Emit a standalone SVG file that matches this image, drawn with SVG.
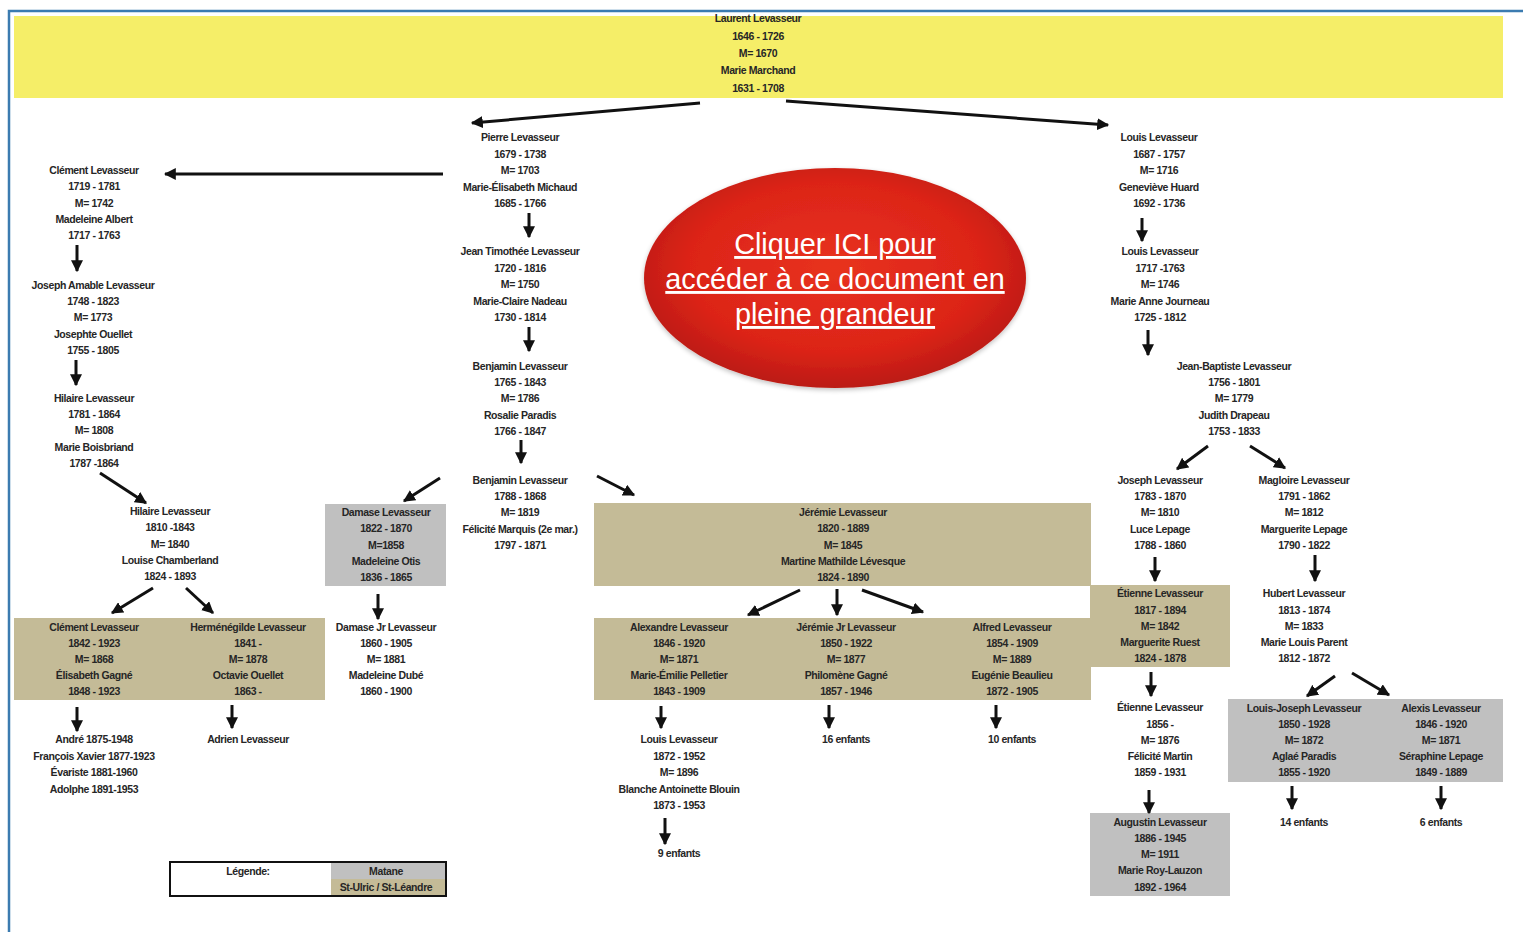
<svg xmlns="http://www.w3.org/2000/svg" width="1523" height="932" viewBox="0 0 1523 932">
<style>
.t{font-family:"Liberation Sans",Arial,sans-serif;font-size:10.5px;font-weight:bold;fill:#262626;text-anchor:middle;letter-spacing:-0.4px}
.big{font-family:"Liberation Sans",Arial,sans-serif;font-size:28.8px;fill:#ffffff;text-anchor:middle;text-decoration:underline}
.ar{stroke:#111;stroke-width:3;fill:none;marker-end:url(#ah)}
.tan{fill:#c4bb97}
.gray{fill:#c0c0c0}
</style>
<defs>
<marker id="ah" viewBox="0 0 10 10" refX="9" refY="5" markerWidth="12" markerHeight="12" markerUnits="userSpaceOnUse" orient="auto">
<path d="M0,0 L10,5 L0,10 z" fill="#111"/>
</marker>
<radialGradient id="rg" cx="50%" cy="45%" r="55%">
<stop offset="0" stop-color="#e8321f"/>
<stop offset="0.7" stop-color="#dc2418"/>
<stop offset="1" stop-color="#bb1a12"/>
</radialGradient>
<filter id="sh" x="-10%" y="-10%" width="120%" height="130%">
<feGaussianBlur in="SourceAlpha" stdDeviation="2.5"/>
<feOffset dy="2"/>
<feComponentTransfer><feFuncA type="linear" slope="0.25"/></feComponentTransfer>
<feMerge><feMergeNode/><feMergeNode in="SourceGraphic"/></feMerge>
</filter>
</defs>
<rect width="1523" height="932" fill="#ffffff"/>
<path d="M9,932 L9,11 L1523,11" fill="none" stroke="#3b7bb0" stroke-width="2.5"/>

<g id="backgrounds">
<rect x="14" y="16" width="1489" height="82" fill="#f5ee68"/>
<rect x="325" y="504" width="121" height="82" class="gray"/>
<rect x="594" y="503" width="497" height="83" class="tan"/>
<rect x="14" y="618" width="311" height="82" class="tan"/>
<rect x="594" y="618" width="497" height="82" class="tan"/>
<rect x="1090" y="585" width="140" height="82" class="tan"/>
<rect x="1228" y="699" width="275" height="83" class="gray"/>
<rect x="1090" y="813" width="140" height="83" class="gray"/>
</g>

<g id="connectors">
<path class="ar" d="M700,103 L472,123" stroke-width="4"/>
<path class="ar" d="M786,101 L1108,125" stroke-width="4"/>
<path class="ar" d="M443,174 L165,174"/>
<path class="ar" d="M529,213 L529,237"/>
<path class="ar" d="M529,327 L529,351"/>
<path class="ar" d="M521,440 L521,463"/>
<path class="ar" d="M77,245 L77,271"/>
<path class="ar" d="M76,360 L76,385"/>
<path class="ar" d="M100,473 L146,503"/>
<path class="ar" d="M153,588 L112,613"/>
<path class="ar" d="M186,588 L213,613"/>
<path class="ar" d="M440,478 L404,501"/>
<path class="ar" d="M597,476 L634,495"/>
<path class="ar" d="M378,594 L378,619"/>
<path class="ar" d="M77,707 L77,731"/>
<path class="ar" d="M232,705 L232,728"/>
<path class="ar" d="M800,590 L748,615"/>
<path class="ar" d="M837,589 L837,615"/>
<path class="ar" d="M862,590 L923,612"/>
<path class="ar" d="M661,706 L661,728"/>
<path class="ar" d="M829,705 L829,728"/>
<path class="ar" d="M996,705 L996,728"/>
<path class="ar" d="M665,818 L665,844"/>
<path class="ar" d="M1142,218 L1142,241"/>
<path class="ar" d="M1148,330 L1148,355"/>
<path class="ar" d="M1208,446 L1177,469"/>
<path class="ar" d="M1250,446 L1285,468"/>
<path class="ar" d="M1155,557 L1155,581"/>
<path class="ar" d="M1315,555 L1315,581"/>
<path class="ar" d="M1151,672 L1151,696"/>
<path class="ar" d="M1149,790 L1149,813"/>
<path class="ar" d="M1335,676 L1307,696"/>
<path class="ar" d="M1352,673 L1389,695"/>
<path class="ar" d="M1292,786 L1292,809"/>
<path class="ar" d="M1441,786 L1441,809"/>
</g>

<g id="n-laurent"><text class="t" x="758" y="22"><tspan x="758">Laurent Levasseur</tspan><tspan x="758" dy="18">1646 - 1726</tspan><tspan x="758" dy="17">M= 1670</tspan><tspan x="758" dy="17">Marie Marchand</tspan><tspan x="758" dy="18">1631 - 1708</tspan></text></g>

<g id="n-pierre"><text class="t" x="520" y="141"><tspan x="520">Pierre Levasseur</tspan><tspan x="520" dy="16.5">1679 - 1738</tspan><tspan x="520" dy="16.5">M= 1703</tspan><tspan x="520" dy="16.5">Marie-Élisabeth Michaud</tspan><tspan x="520" dy="16.5">1685 - 1766</tspan></text></g>

<g id="n-clement1"><text class="t" x="94" y="174"><tspan x="94">Clément Levasseur</tspan><tspan x="94" dy="16.3">1719 - 1781</tspan><tspan x="94" dy="16.3">M= 1742</tspan><tspan x="94" dy="16.3">Madeleine Albert</tspan><tspan x="94" dy="16.3">1717 - 1763</tspan></text></g>

<g id="n-louis1"><text class="t" x="1159" y="141"><tspan x="1159">Louis Levasseur</tspan><tspan x="1159" dy="16.5">1687 - 1757</tspan><tspan x="1159" dy="16.5">M= 1716</tspan><tspan x="1159" dy="16.5">Geneviève Huard</tspan><tspan x="1159" dy="16.5">1692 - 1736</tspan></text></g>

<g id="n-jeantim"><text class="t" x="520" y="255"><tspan x="520">Jean Timothée Levasseur</tspan><tspan x="520" dy="16.5">1720 - 1816</tspan><tspan x="520" dy="16.5">M= 1750</tspan><tspan x="520" dy="16.5">Marie-Claire Nadeau</tspan><tspan x="520" dy="16.5">1730 - 1814</tspan></text></g>

<g id="n-louis2"><text class="t" x="1160" y="255"><tspan x="1160">Louis Levasseur</tspan><tspan x="1160" dy="16.5">1717 -1763</tspan><tspan x="1160" dy="16.5">M= 1746</tspan><tspan x="1160" dy="16.5">Marie Anne Journeau</tspan><tspan x="1160" dy="16.5">1725 - 1812</tspan></text></g>

<g id="n-josephamable"><text class="t" x="93" y="289"><tspan x="93">Joseph Amable Levasseur</tspan><tspan x="93" dy="16.2">1748 - 1823</tspan><tspan x="93" dy="16.2">M= 1773</tspan><tspan x="93" dy="16.2">Josephte Ouellet</tspan><tspan x="93" dy="16.2">1755 - 1805</tspan></text></g>

<g id="n-benjamin1"><text class="t" x="520" y="370"><tspan x="520">Benjamin Levasseur</tspan><tspan x="520" dy="16.2">1765 - 1843</tspan><tspan x="520" dy="16.2">M= 1786</tspan><tspan x="520" dy="16.2">Rosalie Paradis</tspan><tspan x="520" dy="16.2">1766 - 1847</tspan></text></g>

<g id="n-jeanbaptiste"><text class="t" x="1234" y="370"><tspan x="1234">Jean-Baptiste Levasseur</tspan><tspan x="1234" dy="16.2">1756 - 1801</tspan><tspan x="1234" dy="16.2">M= 1779</tspan><tspan x="1234" dy="16.2">Judith Drapeau</tspan><tspan x="1234" dy="16.2">1753 - 1833</tspan></text></g>

<g id="n-hilaire1"><text class="t" x="94" y="402"><tspan x="94">Hilaire Levasseur</tspan><tspan x="94" dy="16.2">1781 - 1864</tspan><tspan x="94" dy="16.2">M= 1808</tspan><tspan x="94" dy="16.2">Marie Boisbriand</tspan><tspan x="94" dy="16.4">1787 -1864</tspan></text></g>

<g id="n-benjamin2"><text class="t" x="520" y="484"><tspan x="520">Benjamin Levasseur</tspan><tspan x="520" dy="16.2">1788 - 1868</tspan><tspan x="520" dy="16.2">M= 1819</tspan><tspan x="520" dy="16.2">Félicité Marquis (2e mar.)</tspan><tspan x="520" dy="16.2">1797 - 1871</tspan></text></g>

<g id="n-hilaire2"><text class="t" x="170" y="515"><tspan x="170">Hilaire Levasseur</tspan><tspan x="170" dy="16.3">1810 -1843</tspan><tspan x="170" dy="16.3">M= 1840</tspan><tspan x="170" dy="16.3">Louise Chamberland</tspan><tspan x="170" dy="16.3">1824 - 1893</tspan></text></g>

<g id="n-damase"><text class="t" x="386" y="516"><tspan x="386">Damase Levasseur</tspan><tspan x="386" dy="16.3">1822 - 1870</tspan><tspan x="386" dy="16.3">M=1858</tspan><tspan x="386" dy="16.3">Madeleine Otis</tspan><tspan x="386" dy="16.3">1836 - 1865</tspan></text></g>

<g id="n-jeremie"><text class="t" x="843" y="516"><tspan x="843">Jérémie Levasseur</tspan><tspan x="843" dy="16.3">1820 - 1889</tspan><tspan x="843" dy="16.3">M= 1845</tspan><tspan x="843" dy="16.3">Martine Mathilde Lévesque</tspan><tspan x="843" dy="16.3">1824 - 1890</tspan></text></g>

<g id="n-joseph"><text class="t" x="1160" y="484"><tspan x="1160">Joseph Levasseur</tspan><tspan x="1160" dy="16.2">1783 - 1870</tspan><tspan x="1160" dy="16.2">M= 1810</tspan><tspan x="1160" dy="16.2">Luce Lepage</tspan><tspan x="1160" dy="16.2">1788 - 1860</tspan></text></g>

<g id="n-magloire"><text class="t" x="1304" y="484"><tspan x="1304">Magloire Levasseur</tspan><tspan x="1304" dy="16.2">1791 - 1862</tspan><tspan x="1304" dy="16.2">M= 1812</tspan><tspan x="1304" dy="16.2">Marguerite Lepage</tspan><tspan x="1304" dy="16.2">1790 - 1822</tspan></text></g>

<g id="n-clement2"><text class="t" x="94" y="631"><tspan x="94">Clément Levasseur</tspan><tspan x="94" dy="16">1842 - 1923</tspan><tspan x="94" dy="16">M= 1868</tspan><tspan x="94" dy="16">Élisabeth Gagné</tspan><tspan x="94" dy="16">1848 - 1923</tspan></text></g>

<g id="n-hermenegilde"><text class="t" x="248" y="631"><tspan x="248">Herménégilde Levasseur</tspan><tspan x="248" dy="16">1841 -</tspan><tspan x="248" dy="16">M= 1878</tspan><tspan x="248" dy="16">Octavie Ouellet</tspan><tspan x="248" dy="16">1863 -</tspan></text></g>

<g id="n-damasejr"><text class="t" x="386" y="631"><tspan x="386">Damase Jr Levasseur</tspan><tspan x="386" dy="16">1860 - 1905</tspan><tspan x="386" dy="16">M= 1881</tspan><tspan x="386" dy="16">Madeleine Dubé</tspan><tspan x="386" dy="16">1860 - 1900</tspan></text></g>

<g id="n-alexandre"><text class="t" x="679" y="631"><tspan x="679">Alexandre Levasseur</tspan><tspan x="679" dy="16">1846 - 1920</tspan><tspan x="679" dy="16">M= 1871</tspan><tspan x="679" dy="16">Marie-Émilie Pelletier</tspan><tspan x="679" dy="16">1843 - 1909</tspan></text></g>

<g id="n-jeremiejr"><text class="t" x="846" y="631"><tspan x="846">Jérémie Jr Levasseur</tspan><tspan x="846" dy="16">1850 - 1922</tspan><tspan x="846" dy="16">M= 1877</tspan><tspan x="846" dy="16">Philomène Gagné</tspan><tspan x="846" dy="16">1857 - 1946</tspan></text></g>

<g id="n-alfred"><text class="t" x="1012" y="631"><tspan x="1012">Alfred Levasseur</tspan><tspan x="1012" dy="16">1854 - 1909</tspan><tspan x="1012" dy="16">M= 1889</tspan><tspan x="1012" dy="16">Eugénie Beaulieu</tspan><tspan x="1012" dy="16">1872 - 1905</tspan></text></g>

<g id="n-etienne1"><text class="t" x="1160" y="597"><tspan x="1160">Étienne Levasseur</tspan><tspan x="1160" dy="16.5">1817 - 1894</tspan><tspan x="1160" dy="16.2">M= 1842</tspan><tspan x="1160" dy="16.2">Marguerite Ruest</tspan><tspan x="1160" dy="16.5">1824 - 1878</tspan></text></g>

<g id="n-hubert"><text class="t" x="1304" y="597"><tspan x="1304">Hubert Levasseur</tspan><tspan x="1304" dy="16.5">1813 - 1874</tspan><tspan x="1304" dy="16.2">M= 1833</tspan><tspan x="1304" dy="16.2">Marie Louis Parent</tspan><tspan x="1304" dy="16.5">1812 - 1872</tspan></text></g>

<g id="n-andre"><text class="t" x="94" y="743"><tspan x="94">André 1875-1948</tspan><tspan x="94" dy="16.7">François Xavier 1877-1923</tspan><tspan x="94" dy="16.5">Évariste 1881-1960</tspan><tspan x="94" dy="16.5">Adolphe 1891-1953</tspan></text></g>

<g id="n-adrien"><text class="t" x="248" y="743">Adrien Levasseur</text></g>

<g id="n-louis3"><text class="t" x="679" y="743"><tspan x="679">Louis Levasseur</tspan><tspan x="679" dy="16.5">1872 - 1952</tspan><tspan x="679" dy="16.5">M=  1896</tspan><tspan x="679" dy="16.5">Blanche Antoinette Blouin</tspan><tspan x="679" dy="16.5">1873 - 1953</tspan></text></g>

<g id="n-16enfants"><text class="t" x="846" y="743">16 enfants</text></g>
<g id="n-10enfants"><text class="t" x="1012" y="743">10 enfants</text></g>
<g id="n-9enfants"><text class="t" x="679" y="857">9 enfants</text></g>

<g id="n-etienne2"><text class="t" x="1160" y="711"><tspan x="1160">Étienne Levasseur</tspan><tspan x="1160" dy="16.5">1856 -</tspan><tspan x="1160" dy="16.2">M= 1876</tspan><tspan x="1160" dy="16.2">Félicité Martin</tspan><tspan x="1160" dy="16.3">1859 - 1931</tspan></text></g>

<g id="n-louisjoseph"><text class="t" x="1304" y="712"><tspan x="1304">Louis-Joseph Levasseur</tspan><tspan x="1304" dy="16.2">1850 - 1928</tspan><tspan x="1304" dy="16">M= 1872</tspan><tspan x="1304" dy="16">Aglaé Paradis</tspan><tspan x="1304" dy="16.2">1855 - 1920</tspan></text></g>

<g id="n-alexis"><text class="t" x="1441" y="712"><tspan x="1441">Alexis Levasseur</tspan><tspan x="1441" dy="16.2">1846 - 1920</tspan><tspan x="1441" dy="16">M= 1871</tspan><tspan x="1441" dy="16">Séraphine Lepage</tspan><tspan x="1441" dy="16.2">1849 - 1889</tspan></text></g>

<g id="n-augustin"><text class="t" x="1160" y="826"><tspan x="1160">Augustin Levasseur</tspan><tspan x="1160" dy="16">1886 - 1945</tspan><tspan x="1160" dy="16.2">M= 1911</tspan><tspan x="1160" dy="16.2">Marie Roy-Lauzon</tspan><tspan x="1160" dy="16.2">1892 - 1964</tspan></text></g>

<g id="n-14enfants"><text class="t" x="1304" y="826">14 enfants</text></g>
<g id="n-6enfants"><text class="t" x="1441" y="826">6 enfants</text></g>

<g id="legend">
<rect x="170" y="862" width="276" height="34" fill="#ffffff" stroke="#111" stroke-width="2"/>
<rect x="331" y="863" width="114" height="16" class="gray"/>
<rect x="331" y="879" width="114" height="16" class="tan"/>
<text class="t" x="248" y="875">Légende:</text>
<text class="t" x="386" y="875">Matane</text>
<text class="t" x="386" y="891">St-Ulric / St-Léandre</text>
</g>

<g id="n-link">
<ellipse cx="835" cy="278" rx="191" ry="110" fill="url(#rg)" filter="url(#sh)"/>
<text class="big" x="835" y="254">Cliquer ICI pour</text>
<text class="big" x="835" y="289">accéder à ce document en</text>
<text class="big" x="835" y="324">pleine grandeur</text>
</g>
</svg>
